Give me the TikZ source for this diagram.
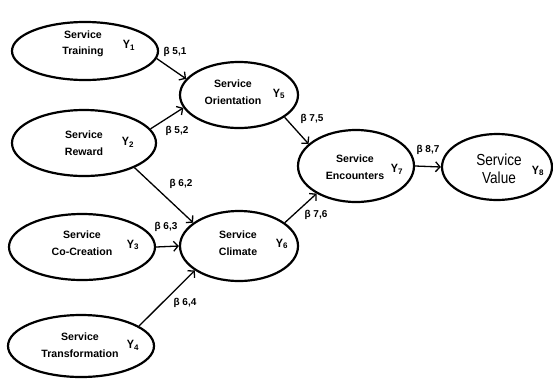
\documentclass[tikz,border=0pt]{standalone}
\usepackage{fontspec}
\setmainfont{Liberation Sans}
\usetikzlibrary{arrows.meta,shapes.geometric}
\tikzset{
  ell/.style={draw, line width=2.2pt, ellipse},
  lbl/.style={font=\fontsize{10.6}{16.5}\selectfont\bfseries, align=center, inner sep=0pt},
  ylbl/.style={font=\fontsize{12}{14}\selectfont\bfseries, inner sep=0pt},
  beta/.style={font=\fontsize{10}{11}\selectfont\bfseries, inner sep=0pt},
  arr/.style={line width=1.3pt, -{Straight Barb[length=4.5pt,width=10pt,line width=1.3pt]}}
}
\newcommand{\yy}[1]{\scalebox{0.9}[1]{Y}\textsubscript{\fontsize{8}{9}\selectfont #1}}
\begin{document}
\begin{tikzpicture}[x=1pt,y=-1pt]
\path[use as bounding box, fill=white] (0,0) rectangle (553,378);
% ellipses
\node[ell, minimum width=146pt, minimum height=58pt] (y1) at (85,51) {};
\node[ell, minimum width=144pt, minimum height=66pt] (y2) at (84,143) {};
\node[ell, minimum width=146pt, minimum height=66pt] (y3) at (82,247) {};
\node[ell, minimum width=146pt, minimum height=62pt] (y4) at (81,346) {};
\node[ell, minimum width=118pt, minimum height=66pt] (y5) at (239,95) {};
\node[ell, minimum width=118pt, minimum height=70pt] (y6) at (239,246) {};
\node[ell, minimum width=116pt, minimum height=72pt] (y7) at (356,166) {};
\node[ell, minimum width=110pt, minimum height=66pt] (y8) at (497,167) {};
% texts
\node[lbl] (t1) at (83,44) {Service\\Training};
\node[lbl] (t2) at (84,143) {Service\\Reward};
\node[lbl] (t3) at (82,243) {Service\\Co-Creation};
\node[lbl] (t4) at (80,345) {Service\\Transformation};
\node[lbl] (t5) at (233,92) {Service\\Orientation};
\node[lbl] (t6) at (238,243) {Service\\Climate};
\node[lbl] (t7) at (355,167) {Service\\Encounters};
\node[align=center, inner sep=0pt, font=\fontsize{16}{18}\selectfont] (t8) at (499,169) {\scalebox{0.85}[1]{Service}\\\scalebox{0.85}[1]{Value}};
% Y labels
\node[ylbl] (l1) at (129,45) {\yy{1}};
\node[ylbl] (l2) at (128,142) {\yy{2}};
\node[ylbl] (l3) at (133,245) {\yy{3}};
\node[ylbl] (l4) at (133,345) {\yy{4}};
\node[ylbl] (l5) at (279,94) {\yy{5}};
\node[ylbl] (l6) at (282,244) {\yy{6}};
\node[ylbl] (l7) at (397,169) {\yy{7}};
\node[ylbl] (l8) at (538,171) {\yy{8}};
% connectors
\draw[arr] (y1.-6) -- (y5.163);
\draw[arr] (y2.12) -- (y5.193);
\draw[arr] (y2.-26) -- (y6.153);
\draw[arr] (y3.east) -- (y6.west);
\draw[arr] (y4.19) -- (y6.209);
\draw[arr] (y5.-26) -- (y7.155);
\draw[arr] (y6.27) -- (y7.215);
\draw[arr] (y7.east) -- (y8.west);
% beta labels
\node[beta] (b51) at (175,52) {β 5,1};
\node[beta] (b52) at (177,131) {β 5,2};
\node[beta] (b62) at (181,184) {β 6,2};
\node[beta] (b63) at (166,227) {β 6,3};
\node[beta] (b64) at (185,303) {β 6,4};
\node[beta] (b75) at (312,119) {β 7,5};
\node[beta] (b76) at (316,215) {β 7,6};
\node[beta] (b87) at (428,150) {β 8,7};
\end{tikzpicture}
\end{document}
